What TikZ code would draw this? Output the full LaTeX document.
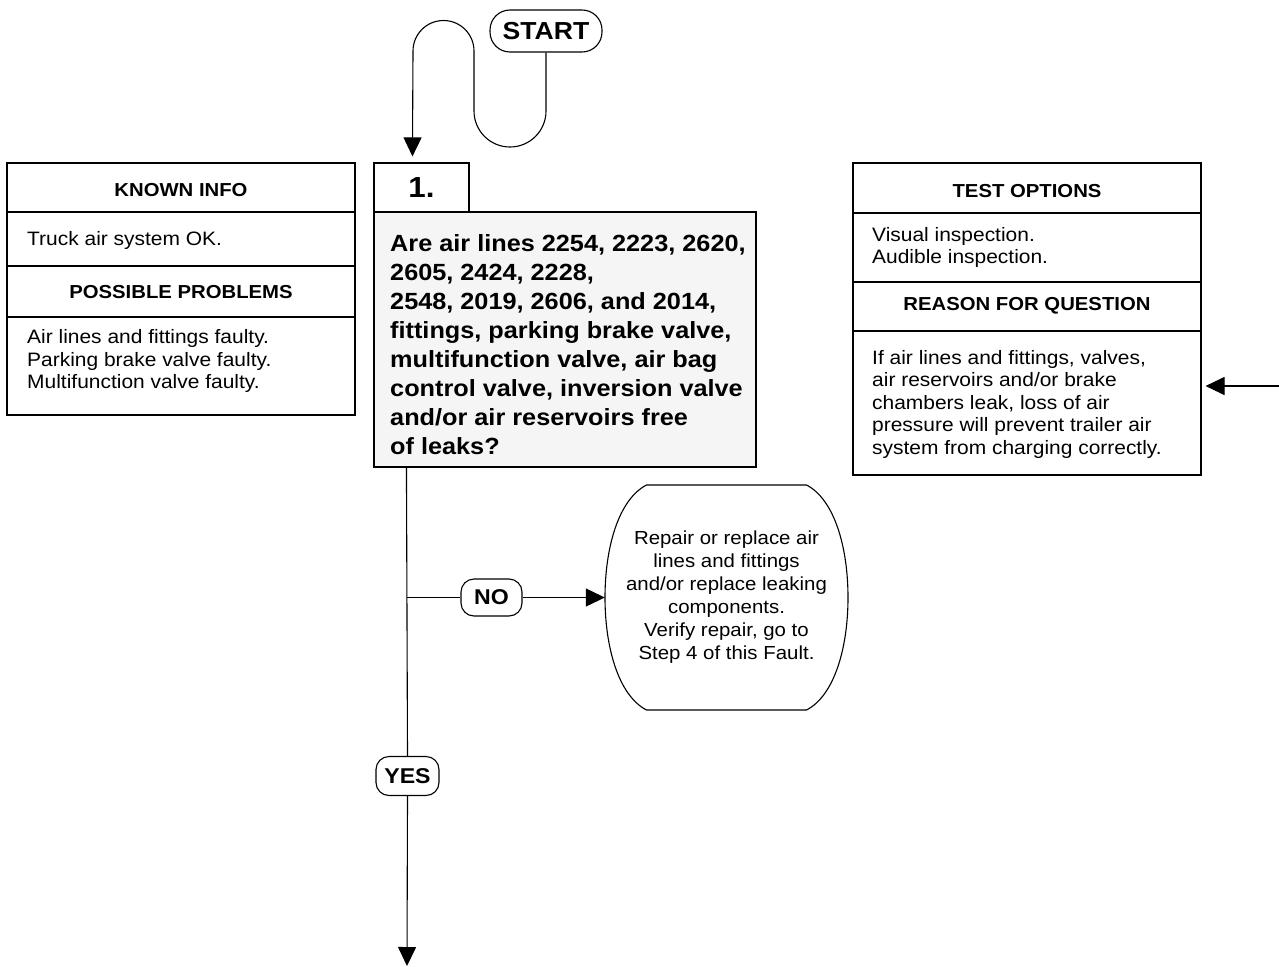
\documentclass[tikz,border=0pt]{standalone}
\usepackage{fontspec}
\setmainfont{Liberation Sans}[FakeStretch=1.08]
\usetikzlibrary{arrows.meta}
\begin{document}
\begin{tikzpicture}[x=1pt,y=-1pt,
  panel/.style={draw, line width=1.1pt, rectangle, inner sep=0pt},
  body/.style={font=\fontsize{19.4}{22.5}\selectfont, align=left, inner sep=0pt, anchor=west},
  head/.style={font=\fontsize{18.8}{21}\selectfont\bfseries, inner sep=0pt},
  pill/.style={draw, line width=1.1pt, rectangle, rounded corners=13pt, inner sep=0pt, font=\fontsize{21.4}{24}\selectfont\bfseries},
  conn/.style={line width=1.1pt},
  arr/.style={line width=1.1pt, -{Triangle[length=19pt,width=18pt]}}
]
\useasboundingbox (0,0) rectangle (1279,966);

% START
\node[pill, rounded corners=20pt, minimum width=112pt, minimum height=42pt,
      font=\fontsize{24.6}{28}\selectfont\bfseries] (start) at (546,31) {START};

% Known info panel
\node[panel, minimum width=348pt, minimum height=252pt] (known) at (181,289) {};
\draw[conn] (known.west |- 0,212) -- (known.east |- 0,212);
\draw[conn] (known.west |- 0,266) -- (known.east |- 0,266);
\draw[conn] (known.west |- 0,317) -- (known.east |- 0,317);
\node[head] (kh) at (181,190) {KNOWN INFO};
\node[body] (kt) at (27,240) {Truck air system OK.};
\node[head] (ph) at (181,292) {POSSIBLE PROBLEMS};
\node[body] (pt) at (27,361) {Air lines and fittings faulty.\\Parking brake valve faulty.\\Multifunction valve faulty.};

% Question
\node[panel, fill=white, minimum width=95pt, minimum height=49pt,
      font=\fontsize{29}{32}\selectfont\bfseries] (q1num) at (421.5,187.5) {1.};
\node[panel, fill=black!4, minimum width=382pt, minimum height=255pt] (qbox) at (565,339.5) {};
\node[body, font=\fontsize{23.4}{29}\selectfont\bfseries] (qtext) at (390,344.5)
  {Are air lines 2254, 2223, 2620,\\2605, 2424, 2228,\\2548, 2019, 2606, and 2014,\\fittings, parking brake valve,\\multifunction valve, air bag\\control valve, inversion valve\\and/or air reservoirs free\\of leaks?};

% Test options panel
\node[panel, minimum width=348pt, minimum height=312pt] (tbox) at (1027,319) {};
\draw[conn] (tbox.west |- 0,213) -- (tbox.east |- 0,213);
\draw[conn] (tbox.west |- 0,282) -- (tbox.east |- 0,282);
\draw[conn] (tbox.west |- 0,331) -- (tbox.east |- 0,331);
\node[head] (th) at (1027,191) {TEST OPTIONS};
\node[body] (tt) at (872,247.5) {Visual inspection.\\Audible inspection.};
\node[head] (rh) at (1027,306) {REASON FOR QUESTION};
\node[body] (rt) at (872,404) {If air lines and fittings, valves,\\air reservoirs and/or brake\\chambers leak, loss of air\\pressure will prevent trailer air\\system from charging correctly.};

% Repair oval
\node[inner sep=0pt, minimum width=243pt, minimum height=226pt, align=center,
      font=\fontsize{18.9}{23}\selectfont] (fix) at (726.5,597.5)
  {Repair or replace air\\lines and fittings\\and/or replace leaking\\components.\\Verify repair, go to\\Step 4 of this Fault.};
\begin{scope}[shift={(fix.center)}]
\draw[conn] (-80,-112.5) -- (80,-112.5)
  .. controls (108,-98) and (121.5,-50) .. (121.5,0)
  .. controls (121.5,50) and (108,98) .. (80,112.5)
  -- (-80,112.5)
  .. controls (-108,98) and (-121.5,50) .. (-121.5,0)
  .. controls (-121.5,-50) and (-108,-98) .. cycle;
\end{scope}

% NO / YES
\node[pill, minimum width=61pt, minimum height=37pt] (no) at (491.5,597.5) {NO};
\node[pill, minimum width=63pt, minimum height=39pt] (yes) at (407.5,776) {YES};
\coordinate (nojoin) at (407,597.5);
\coordinate (endc) at (407,966);
\coordinate (rin) at (1279,386);

% connectors
\draw[arr] (start.south) -- (546,111) arc[start angle=0, end angle=180, radius=36]
  -- (474,51) arc[start angle=0, end angle=-180, radius=30.5]
  -- ([xshift=39pt,yshift=6pt]q1num.north west);
\draw[conn] ([xshift=33pt]qbox.south west) -- (yes.north);
\draw[arr] (yes.south) -- (endc);
\draw[conn] (nojoin) -- (no.west);
\draw[arr] (no.east) -- (fix.west);
\draw[arr, shorten >=4pt] (rin) -- (rin -| tbox.east);
\end{tikzpicture}
\end{document}
